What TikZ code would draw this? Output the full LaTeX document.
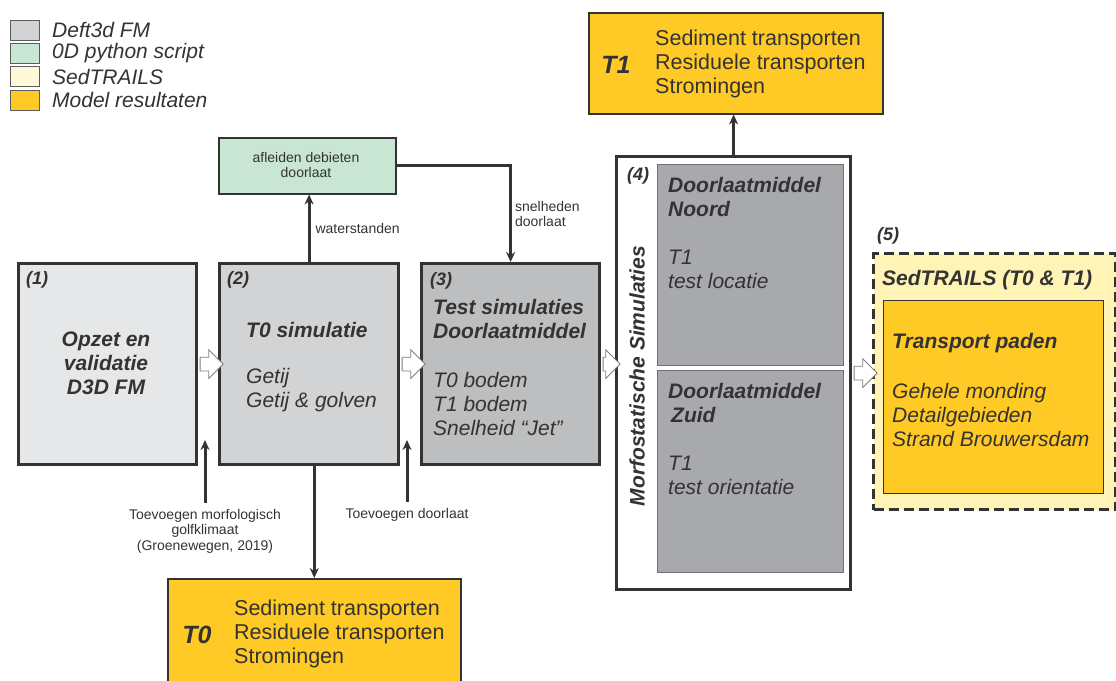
\documentclass[tikz,border=0pt]{standalone}
\usepackage{fontspec}
\setmainfont{Liberation Sans}
\usetikzlibrary{arrows.meta,positioning,shapes.arrows}

\definecolor{ink}{HTML}{333333}
\definecolor{grayA}{HTML}{E6E7E8}
\definecolor{grayB}{HTML}{D1D3D4}
\definecolor{grayC}{HTML}{BCBEC0}
\definecolor{grayD}{HTML}{A7A9AC}
\definecolor{pyGreen}{HTML}{C9E6D5}
\definecolor{sedYellow}{HTML}{FFF3B5}
\definecolor{legYellow}{HTML}{FFF9DA}
\definecolor{resGold}{HTML}{FFC926}

\begin{document}
\begin{tikzpicture}[%
    x=1pt, y=-1pt,
    >={Stealth[length=10pt,width=9pt]},
    every node/.style={text=ink},
    box/.style={draw=ink, line width=3.2pt, anchor=north west, inner sep=0pt},
    thinbox/.style={draw=ink, line width=1.2pt, anchor=north west, inner sep=0pt},
    swatch/.style={draw=ink!80, line width=1pt, minimum width=29pt, minimum height=20pt, inner sep=0pt},
    num/.style={font=\fontsize{18}{20}\selectfont\bfseries\itshape, anchor=west, inner sep=0pt},
    title/.style={font=\fontsize{21}{24}\selectfont\bfseries\itshape, align=left, anchor=west, inner sep=0pt},
    body/.style={font=\fontsize{21}{24}\selectfont\itshape, align=left, anchor=west, inner sep=0pt},
    res/.style={font=\fontsize{21.5}{24}\selectfont, align=left, anchor=west, inner sep=0pt},
    small/.style={font=\fontsize{14}{15.5}\selectfont, align=center, inner sep=1pt},
    conn/.style={draw=ink, line width=3pt, ->},
    hollow/.style={single arrow, draw=gray, fill=white, line width=0.8pt,
      inner xsep=0pt, inner ysep=6.5pt, single arrow head extend=7.5pt,
      minimum height=23pt, anchor=west},
  ]
    \useasboundingbox (0,0) rectangle (1116,680);

    % legend
    \foreach \col/\txt [count=\i] in {grayB/Deft3d FM, pyGreen/0D python script,
        legYellow/SedTRAILS, resGold/Model resultaten} {
      \node[swatch, fill=\col] (sw\i) at (25,30+23.4*\i-23.4) {};
      \node[body, anchor=west] (lg\i) at (52,30+23.4*\i-23.4) {\txt};
    }

    % main boxes
    \node[box, fill=grayA, minimum width=178pt, minimum height=201pt] (b1) at (17,262) {};
    \node[box, fill=grayB, minimum width=179pt, minimum height=201pt] (b2) at (218,262) {};
    \node[box, fill=grayC, minimum width=178pt, minimum height=201pt] (b3) at (420,262) {};
    \node[box, fill=white, minimum width=234pt, minimum height=433pt] (b4) at (615,155) {};
    \node[thinbox, draw=ink!70, fill=grayD, minimum width=186pt, minimum height=201pt] (b4n) at (657,164) {};
    \node[thinbox, draw=ink!70, fill=grayD, minimum width=186pt, minimum height=202pt] (b4s) at (657,370) {};
    \node[box, dash pattern=on 10pt off 5pt, fill=sedYellow, minimum width=242pt, minimum height=256pt] (b5) at (872,252) {};
    \node[thinbox, fill=resGold, minimum width=220pt, minimum height=193pt] (b5in) at (883,300) {};

    % side boxes
    \node[thinbox, line width=1.5pt, fill=pyGreen, minimum width=177pt, minimum height=56pt] (py) at (218,137) {};
    \node[thinbox, line width=1.5pt, fill=resGold, minimum width=294pt, minimum height=101pt] (t1) at (588,12) {};
    \node[thinbox, line width=1.5pt, fill=resGold, minimum width=293pt, minimum height=110pt] (t0) at (167,578) {};

    % texts in the boxes
    \node[num] (n1) at (26,280) {(1)};
    \node[title, align=center, anchor=center] (b1txt) at (106,363) {Opzet en\\validatie\\D3D FM};

    \node[num] (n2) at (227,280) {(2)};
    \node[title] (b2ttl) at (246,330) {T0 simulatie};
    \node[body] (b2txt) at (246,390) {Getij\\Getij \& golven};

    \node[num] (n3) at (430,281) {(3)};
    \node[title] (b3ttl) at (433,319) {Test simulaties\\Doorlaatmiddel};
    \node[body] (b3txt) at (433,404) {T0 bodem\\T1 bodem\\Snelheid “Jet”};

    \node[num] (n4) at (627,176) {(4)};
    \node[title, rotate=90, anchor=center] (morf) at (637,376) {Morfostatische Simulaties};
    \node[title] (b4nttl) at (668,197) {Doorlaatmiddel\\Noord};
    \node[body] (b4ntxt) at (668,269) {T1\\test locatie};
    \node[title] (b4sttl) at (668,403) {Doorlaatmiddel\\\hspace*{3pt}Zuid};
    \node[body] (b4stxt) at (668,475) {T1\\test orientatie};

    \node[num] (n5) at (877,236) {(5)};
    \node[title] (b5ttl) at (882,280) {SedTRAILS (T0 \& T1)};
    \node[title] (b5sub) at (892,343) {Transport paden};
    \node[body] (b5txt) at (892,415) {Gehele monding\\Detailgebieden\\Strand Brouwersdam};

    \node[small] (pytxt) at (306,165) {afleiden debieten\\doorlaat};

    \node[title, font=\fontsize{25}{28}\selectfont\bfseries\itshape, anchor=center] (t1lbl) at (616,65) {T1};
    \node[res] (t1txt) at (655,63.5) {Sediment transporten\\Residuele transporten\\Stromingen};
    \node[title, font=\fontsize{25}{28}\selectfont\bfseries\itshape, anchor=center] (t0lbl) at (197,635) {T0};
    \node[res] (t0txt) at (234,633.5) {Sediment transporten\\Residuele transporten\\Stromingen};

    % hollow arrows between the steps
    \node[hollow] (h12) at ([xshift=1.5pt]b1.east) {};
    \node[hollow] (h23) at ([xshift=1.5pt]b2.east) {};
    \node[hollow, minimum height=17pt] (h34) at ([xshift=1.5pt]b3.east) {};
    \node[hollow] (h45) at ([xshift=1.5pt]b4.east) {};

    % connectors
    \draw[conn] (b2.north) -- node[small, right=4pt] (lwater) {waterstanden} (b2.north |- py.south);
    \draw[conn] (py.east) -| node[small, align=left, right=2pt, pos=0.75] (lsnel) {snelheden\\doorlaat} (b3.north);
    \draw[conn] (b4.north) -- (b4.north |- t1.south);
    \draw[conn] (t0.north |- b2.south) -- (t0.north);

    \coordinate (in1) at (205,503);
    \coordinate (in2) at (407,502);
    \draw[conn] (in1) -- ++(0,-63);
    \draw[conn] (in2) -- ++(0,-62);
    \node[small, below=5pt of in1] (lin1) {Toevoegen morfologisch\\golfklimaat\\(Groenewegen, 2019)};
    \node[small, below=5pt of in2] (lin2) {Toevoegen doorlaat};
  \end{tikzpicture}
\end{document}
